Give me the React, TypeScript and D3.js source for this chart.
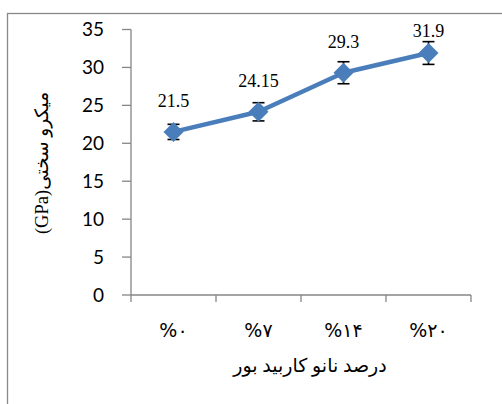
import React from "react";
import * as d3 from "d3";

const categories = ["%۰", "%۷", "%۱۴", "%۲۰"];
const values = [21.5, 24.15, 29.3, 31.9];
const valueLabels = ["21.5", "24.15", "29.3", "31.9"];
const errors = [1.0, 1.2, 1.45, 1.5];
const yTicks = [0, 5, 10, 15, 20, 25, 30, 35];
const xTitle = "درصد نانو کاربید بور";
const yTitle = "میکرو سختی(GPa)";

export default function App() {
  const W = 502, H = 404;
  const left = 131, right = 471, top = 29.5, bottom = 295;
  const x = d3.scaleBand<string>().domain(categories).range([left, right]);
  const y = d3.scaleLinear().domain([0, 35]).range([bottom, top]);
  const pts = values.map((v, i) => [x(categories[i])! + x.bandwidth() / 2, y(v)] as [number, number]);
  const line = d3.line()(pts) || "";
  const blue = "#4A7EBB";
  const axisColor = "#868686";
  const tickEdges = [...categories.map((c) => x(c)!), right];
  const diamond = d3.symbol(d3.symbolSquare, 200)() || "";
  return (
    <svg width={W} height={H} style={{ position: "absolute", left: 0, top: 0, background: "#fff" }}>
      <rect x={7.5} y={13.5} width={W + 20} height={H + 20} fill="#fff" stroke="#898989" strokeWidth={1.3} />
      {/* y axis */}
      <line x1={left} x2={left} y1={top} y2={bottom} stroke={axisColor} strokeWidth={1.3} />
      {yTicks.map((t) => (
        <g key={t}>
          <line x1={left - 9} x2={left} y1={y(t)} y2={y(t)} stroke={axisColor} strokeWidth={1.3} />
          <text x={104} y={y(t)} dy="0.35em" textAnchor="end" fontFamily="Lato, 'Open Sans', sans-serif" fontSize={19} fill="#000">
            {t}
          </text>
        </g>
      ))}
      {/* x axis */}
      <line x1={left} x2={right} y1={bottom} y2={bottom} stroke={axisColor} strokeWidth={1.3} />
      {tickEdges.map((tx, i) => (
        <line key={i} x1={tx} x2={tx} y1={bottom} y2={bottom + 7} stroke={axisColor} strokeWidth={1.3} />
      ))}
      {categories.map((c) => (
        <text key={c} x={x(c)! + x.bandwidth() / 2} y={337} textAnchor="middle" direction="ltr" fontFamily="'DejaVu Sans', sans-serif" fontSize={19} fill="#000" letterSpacing={1}>
          {c}
        </text>
      ))}
      {/* error bars */}
      {pts.map(([px, py], i) => {
        const e1 = y(values[i] + errors[i]);
        const e2 = y(values[i] - errors[i]);
        return (
          <g key={"e" + i} stroke="#000" strokeWidth={1.6}>
            <line x1={px} x2={px} y1={e1} y2={e2} />
            <line x1={px - 6} x2={px + 6} y1={e1} y2={e1} />
            <line x1={px - 6} x2={px + 6} y1={e2} y2={e2} />
          </g>
        );
      })}
      <path d={line} fill="none" stroke={blue} strokeWidth={4.5} strokeLinejoin="round" />
      {pts.map(([px, py], i) => (
        <path key={"m" + i} d={diamond} transform={`translate(${px},${py}) rotate(45)`} fill={blue} />
      ))}
      {pts.map(([px, py], i) => (
        <text key={"l" + i} x={px} y={Math.max(py - 25, 37)} textAnchor="middle" fontFamily="'Liberation Serif', serif" fontSize={18} fill="#000">
          {valueLabels[i]}
        </text>
      ))}
      <text x={310} y={372} textAnchor="middle" direction="rtl" fontFamily="'Liberation Serif', 'DejaVu Sans', serif" fontSize={19} fill="#000">
        {xTitle}
      </text>
      <text transform="translate(48,163) rotate(-90)" textAnchor="middle" direction="rtl" fontFamily="'Liberation Serif', 'DejaVu Sans', serif" fontSize={18.5} fill="#000">
        {yTitle}
      </text>
    </svg>
  );
}
